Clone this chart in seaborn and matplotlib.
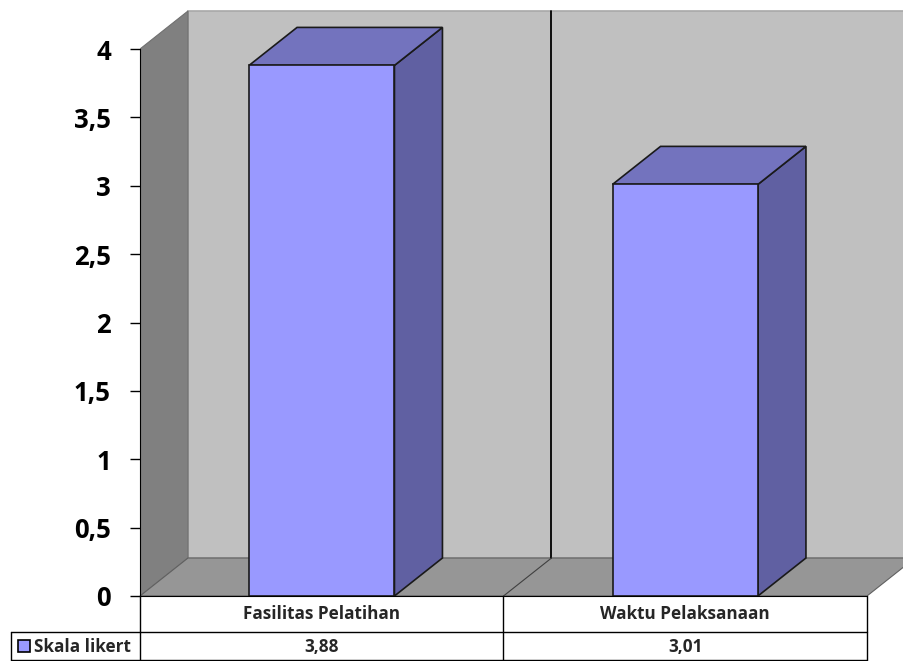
import numpy as np
import seaborn as sns
import matplotlib.pyplot as plt
from matplotlib.patches import Polygon, Rectangle

categories = ['Fasilitas Pelatihan', 'Waktu Pelaksanaan']
values = [3.88, 3.01]
series_name = 'Skala likert'
yticks = [0, 0.5, 1, 1.5, 2, 2.5, 3, 3.5, 4]
ytick_labels = ['0', '0,5', '1', '1,5', '2', '2,5', '3', '3,5', '4']

sns.set_style('white')
plt.rcParams['font.family'] = ['Open Sans', 'DejaVu Sans']

W, H = 904, 661
fig = plt.figure(figsize=(W / 100, H / 100), dpi=100)

# pixel geometry of the plot area (Excel style 3D column chart)
x0_px, cat_px = 140, 363.5
y0_px, unit_px = 596, 136.75
ax = fig.add_axes([x0_px / W, (H - y0_px) / H, (W - x0_px) / W, y0_px / H])


def px(x):
    return -0.5 + (x - x0_px) / cat_px


def py(y):
    return (y0_px - y) / unit_px


dx, dy = 48 / cat_px, 38 / unit_px
xl, xr = -0.5, len(categories) - 0.5
ymax = yticks[-1]

# walls and floor
ax.add_patch(Polygon([(xl + dx, dy), (xr + dx, dy), (xr + dx, ymax + dy), (xl + dx, ymax + dy)],
                     fc='#C0C0C0', ec='#a8a8a8', lw=1.2, zorder=0, clip_on=False))
ax.add_patch(Polygon([(xl, 0), (xl + dx, dy), (xl + dx, ymax + dy), (xl, ymax)],
                     fc='#808080', ec='#707070', lw=0.8, zorder=1))
ax.add_patch(Polygon([(xl, 0), (xr, 0), (xr + dx, dy), (xl + dx, dy)],
                     fc='#969696', ec='#606060', lw=0.8, zorder=1, clip_on=False))
for i in range(1, len(categories)):
    b = i - 0.5
    ax.plot([b + dx, b + dx], [dy, ymax + dy], color='black', lw=1.3, zorder=1)
    ax.plot([b, b + dx], [0, dy], color='#404040', lw=0.8, zorder=1)

sns.barplot(x=categories, y=values, width=0.4, color='#9999FF', saturation=1,
            edgecolor='#1a1a1a', linewidth=1.2, ax=ax, zorder=4)

for bar in ax.containers[0]:
    bx0, bw, bh = bar.get_x(), bar.get_width(), bar.get_height()
    bx1 = bx0 + bw
    ax.add_patch(Polygon([(bx1, 0), (bx1 + dx, dy), (bx1 + dx, bh + dy), (bx1, bh)],
                         fc='#6060A2', ec='#1a1a1a', lw=1.2, zorder=3))
    ax.add_patch(Polygon([(bx0, bh), (bx1, bh), (bx1 + dx, bh + dy), (bx0 + dx, bh + dy)],
                         fc='#7373BE', ec='#1a1a1a', lw=1.2, zorder=3))

# seaborn resets the category limits, so set them afterwards
ax.set_xlim(-0.5, -0.5 + (W - x0_px) / cat_px)
ax.set_ylim(0, y0_px / unit_px)

ax.set_xlabel('')
ax.set_ylabel('')
ax.set_xticks([])
ax.set_yticks(yticks)
ax.set_yticklabels(ytick_labels, fontsize=18.5, fontweight='bold')
ax.tick_params(axis='y', length=7, width=1, pad=14, colors='black', left=True)
for s in ['top', 'right']:
    ax.spines[s].set_visible(False)
ax.spines['left'].set_bounds(0, ymax)
ax.spines['left'].set_color('black')
ax.spines['left'].set_zorder(5)
ax.spines['bottom'].set_bounds(xl, xr)
ax.spines['bottom'].set_color('black')
ax.spines['bottom'].set_zorder(5)

# data table below the plot
row1, row2 = py(632), py(660)
lx = px(11)
kw = dict(color='black', lw=1, clip_on=False)
for b in np.arange(xl, xr + 0.5, 1.0):
    ax.plot([b, b], [0, row2], **kw)
ax.plot([lx, xr], [row1, row1], **kw)
ax.plot([lx, xr], [row2, row2], **kw)
ax.plot([lx, lx], [row1, row2], **kw)

for i, (c, v) in enumerate(zip(categories, values)):
    ax.text(i, py(614), c, ha='center', va='center', fontsize=12.3, fontweight='bold', clip_on=False)
    ax.text(i, py(646.5), f'{v:.2f}'.replace('.', ','), ha='center', va='center',
            fontsize=12.3, fontweight='bold', clip_on=False)

ax.add_patch(Rectangle((px(18), py(652)), px(30) - px(18), py(640) - py(652),
                       fc='#9999FF', ec='black', lw=1.2, clip_on=False, zorder=5))
ax.text(px(34), py(646.5), series_name, ha='left', va='center', fontsize=12.3,
        fontweight='bold', clip_on=False)

fig.savefig('out.png', dpi=100)
